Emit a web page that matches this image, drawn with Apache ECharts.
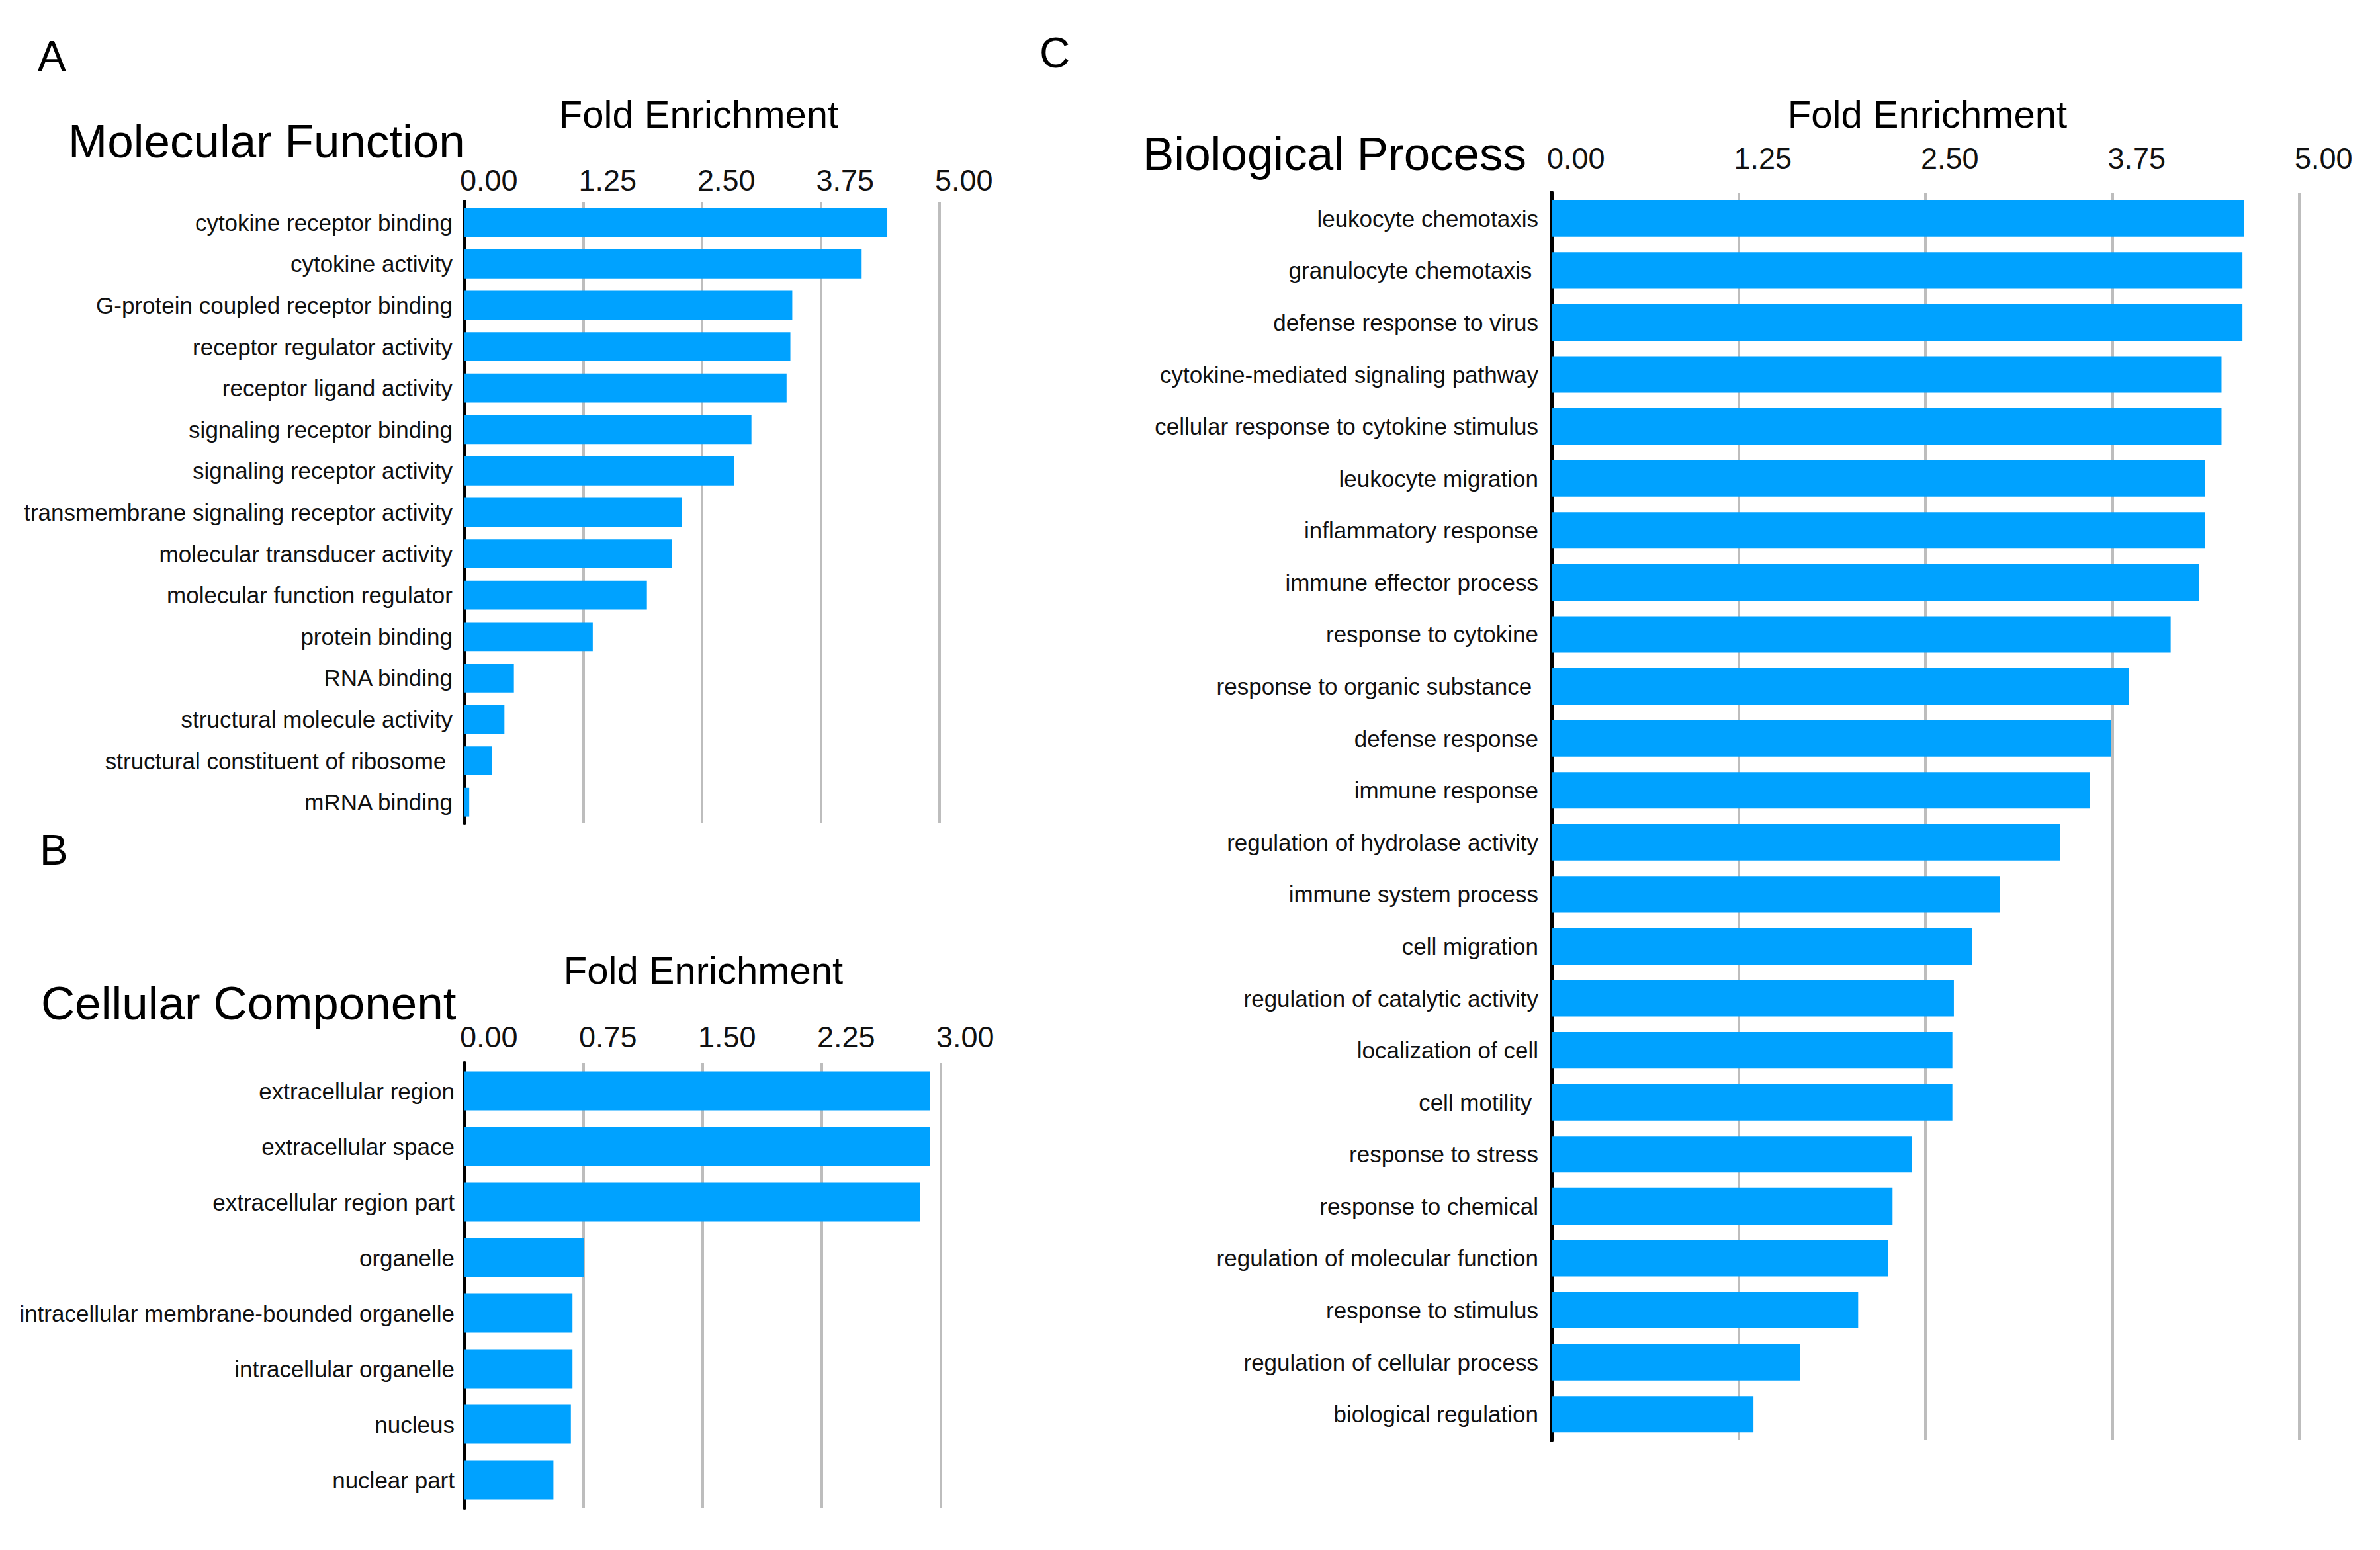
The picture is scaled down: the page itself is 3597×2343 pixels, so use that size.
<!DOCTYPE html>
<html>
<head>
<meta charset="utf-8">
<script src="https://cdn.jsdelivr.net/npm/echarts@6/dist/echarts.min.js"></script>
<style>
html,body{margin:0;padding:0;background:#fff;}
#chart{width:3597px;height:2343px;}
</style>
</head>
<body>
<div id="chart"></div>
<script>
// ---- Data ----
const mfCategories = ["cytokine receptor binding","cytokine activity","G-protein coupled receptor binding","receptor regulator activity","receptor ligand activity","signaling receptor binding","signaling receptor activity","transmembrane signaling receptor activity","molecular transducer activity","molecular function regulator","protein binding","RNA binding","structural molecule activity","structural constituent of ribosome ","mRNA binding"];
const mfValues = [4.45, 4.18, 3.45, 3.43, 3.39, 3.02, 2.84, 2.29, 2.18, 1.92, 1.35, 0.52, 0.42, 0.29, 0.05];
const mfTicks = [0, 1.25, 2.5, 3.75, 5];

const ccCategories = ["extracellular region","extracellular space","extracellular region part","organelle","intracellular membrane-bounded organelle","intracellular organelle","nucleus","nuclear part"];
const ccValues = [2.93, 2.93, 2.87, 0.75, 0.68, 0.68, 0.67, 0.56];
const ccTicks = [0, 0.75, 1.5, 2.25, 3];

const bpCategories = ["leukocyte chemotaxis","granulocyte chemotaxis ","defense response to virus","cytokine-mediated signaling pathway","cellular response to cytokine stimulus","leukocyte migration","inflammatory response","immune effector process","response to cytokine","response to organic substance ","defense response","immune response","regulation of hydrolase activity","immune system process","cell migration","regulation of catalytic activity","localization of cell","cell motility ","response to stress","response to chemical","regulation of molecular function","response to stimulus","regulation of cellular process","biological regulation"];
const bpValues = [4.63, 4.62, 4.62, 4.48, 4.48, 4.37, 4.37, 4.33, 4.14, 3.86, 3.74, 3.60, 3.40, 3.00, 2.81, 2.69, 2.68, 2.68, 2.41, 2.28, 2.25, 2.05, 1.66, 1.35];
const bpTicks = [0, 1.25, 2.5, 3.75, 5];

const axisTitle = "Fold Enrichment";

// ---- Build ----
const FONT = "'Liberation Sans', Arial, Helvetica, sans-serif";
const BAR = '#00A2FF';
const panels = [
  {cats: mfCategories, vals: mfValues, ticks: mfTicks, grid: {left: 702, top: 305, width: 718, height: 939}, labelMargin: 10, catMargin: 18},
  {cats: ccCategories, vals: ccValues, ticks: ccTicks, grid: {left: 702, top: 1607, width: 720, height: 672}, labelMargin: 17, catMargin: 15},
  {cats: bpCategories, vals: bpValues, ticks: bpTicks, grid: {left: 2345, top: 291, width: 1130, height: 1886}, labelMargin: 29, catMargin: 20}
];

const option = {
  animation: false,
  backgroundColor: '#fff',
  grid: [], xAxis: [], yAxis: [], series: [],
  graphic: []
};

panels.forEach((p, i) => {
  option.grid.push(Object.assign({containLabel: false}, p.grid));
  option.xAxis.push({
    type: 'value', gridIndex: i, position: 'top',
    min: p.ticks[0], max: p.ticks[p.ticks.length - 1], interval: p.ticks[1] - p.ticks[0],
    axisLine: {show: false}, axisTick: {show: false},
    splitLine: {show: true, lineStyle: {color: '#bdbdbd', width: 4}},
    axisLabel: {fontSize: 45, color: '#111', fontFamily: FONT, align: 'left', margin: p.labelMargin,
      padding: [0, 0, 0, -7],
      formatter: v => v.toFixed(2)}
  });
  option.yAxis.push({
    type: 'category', gridIndex: i, inverse: true, data: p.cats,
    axisLine: {show: true, lineStyle: {color: '#000', width: 6}},
    axisTick: {show: false}, splitLine: {show: false},
    axisLabel: {fontSize: 35, color: '#111', fontFamily: FONT, margin: p.catMargin}
  });
  option.series.push({
    type: 'bar', xAxisIndex: i, yAxisIndex: i, data: p.vals,
    barCategoryGap: '30%', itemStyle: {color: BAR}, silent: true
  });
});

function txt(x, y, s, size, align) {
  return {type: 'text', x: x, y: y, silent: true,
    style: {text: s, fontSize: size, fontFamily: FONT, fill: '#000', textAlign: align || 'left', textVerticalAlign: 'middle'}};
}
option.graphic = [
  txt(57, 85, 'A', 64),
  txt(60, 1285, 'B', 64),
  txt(1571, 80, 'C', 64),
  txt(103, 213, 'Molecular Function', 71),
  txt(62, 1516, 'Cellular Component', 71),
  txt(1727, 232, 'Biological Process', 71),
  txt(1056, 172, axisTitle, 58, 'center'),
  txt(1063, 1466, axisTitle, 58, 'center'),
  txt(2913, 172, axisTitle, 58, 'center')
];

const chart = echarts.init(document.getElementById('chart'), null, {renderer: 'svg'});
chart.setOption(option);
</script>
</body>
</html>
